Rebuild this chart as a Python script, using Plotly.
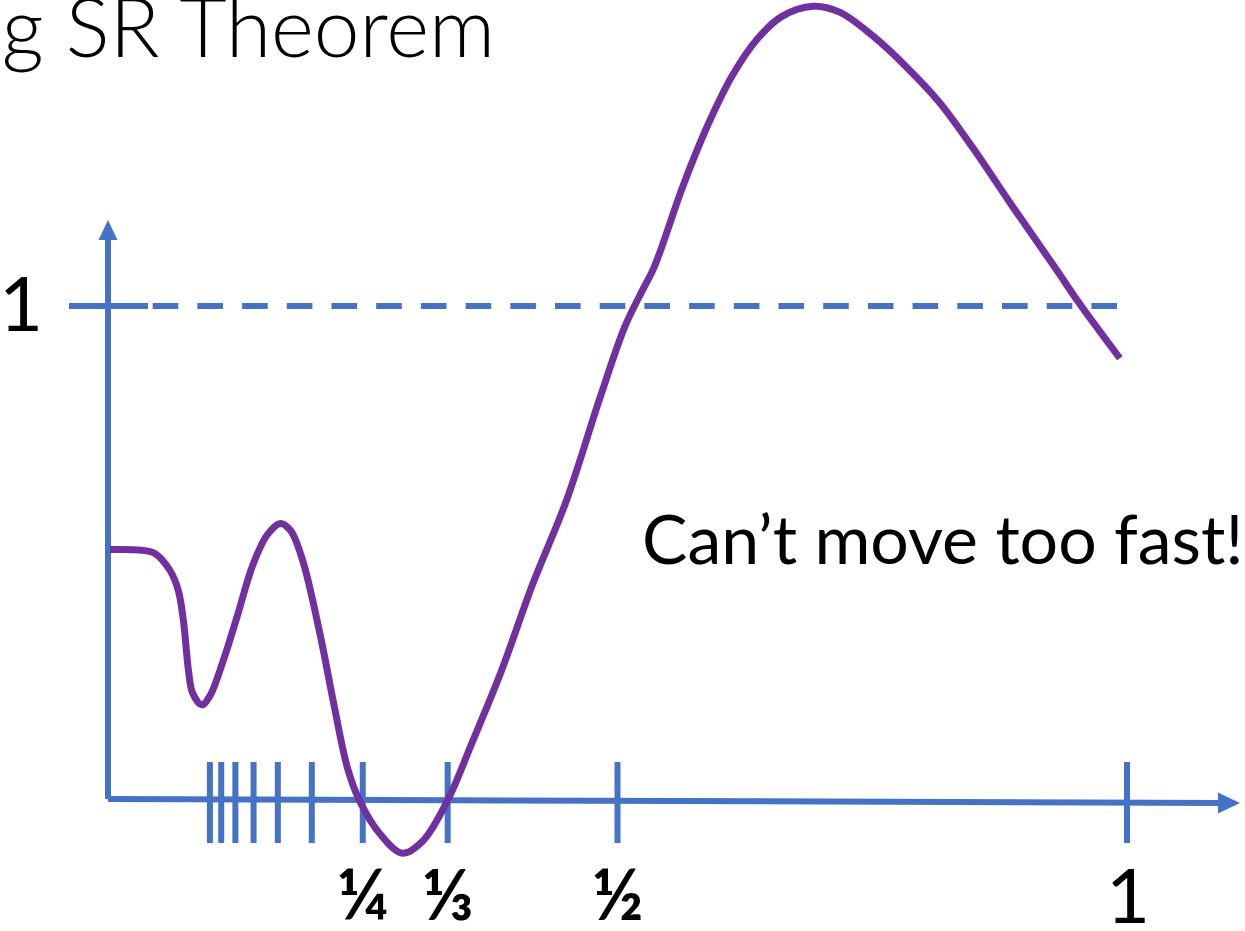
import plotly.graph_objects as go

# ---- data ----
curve_x = [0.002, 0.031, 0.046, 0.061, 0.069, 0.074, 0.079, 0.083, 0.092, 0.100,
           0.113, 0.127, 0.142, 0.156, 0.169, 0.179, 0.191, 0.208, 0.221, 0.235,
           0.247, 0.267, 0.289, 0.309, 0.333, 0.358, 0.385, 0.417, 0.450, 0.483,
           0.507, 0.523, 0.536, 0.564, 0.588, 0.612, 0.637, 0.661, 0.692, 0.718,
           0.751, 0.783, 0.816, 0.848, 0.888, 0.929, 0.953, 0.993]
curve_y = [0.506, 0.505, 0.498, 0.463, 0.423, 0.362, 0.260, 0.215, 0.191, 0.209,
           0.280, 0.372, 0.474, 0.535, 0.559, 0.545, 0.484, 0.335, 0.199, 0.063,
           -0.004, -0.071, -0.110, -0.085, -0.004, 0.118, 0.254, 0.437, 0.606, 0.815,
           0.957, 1.026, 1.079, 1.242, 1.364, 1.465, 1.541, 1.587, 1.608, 1.596,
           1.547, 1.486, 1.413, 1.323, 1.201, 1.079, 1.006, 0.894]

tick_denominators = [1, 2, 3, 4, 5, 6, 7, 8, 9, 10]
tick_labels = {1: "1", 2: "½", 3: "⅓", 4: "¼"}
threshold = 1.0
title_text = "Using SR Theorem"
note_text = "Can’t move too fast!"

BLUE = "#4472C4"
PURPLE = "#7030A0"

W, H = 1245, 931
X0_PX, X1_PX = 108, 1127   # page pixels of x=0 and x=1
Y0_PX, Y1_PX = 799, 306    # page pixels of y=0 and y=1
sx = X1_PX - X0_PX
sy = Y0_PX - Y1_PX
x_range = [-X0_PX / sx, (W - X0_PX) / sx]
y_range = [(Y0_PX - H) / sy, Y0_PX / sy]


def px_to_x(p):
    return (p - X0_PX) / sx


def px_to_y(p):
    return (Y0_PX - p) / sy


fig = go.Figure()
LW = 6

# dashed threshold line
fig.add_trace(go.Scatter(x=[0, px_to_x(1118)], y=[threshold, threshold], mode="lines",
                         line=dict(color=BLUE, width=LW, dash="25.6px,19.1px"),
                         hoverinfo="skip", showlegend=False))
# y tick at threshold
fig.add_trace(go.Scatter(x=[px_to_x(69), px_to_x(148)], y=[threshold, threshold], mode="lines",
                         line=dict(color=BLUE, width=LW), hoverinfo="skip", showlegend=False))
# y axis
fig.add_trace(go.Scatter(x=[0, 0], y=[0, px_to_y(238)], mode="lines",
                         line=dict(color=BLUE, width=LW), hoverinfo="skip", showlegend=False))
# x axis (slightly tilted like the hand drawing)
x_end = px_to_x(1222)
tilt = -4 / sy
fig.add_trace(go.Scatter(x=[0, x_end], y=[0, tilt], mode="lines",
                         line=dict(color=BLUE, width=LW), hoverinfo="skip", showlegend=False))
# x ticks at 1/n
tick_top, tick_bot = px_to_y(762), px_to_y(843)
tx, ty = [], []
for n in tick_denominators:
    v = 1.0 / n
    tx += [v, v, None]
    ty += [tick_bot, tick_top, None]
fig.add_trace(go.Scatter(x=tx, y=ty, mode="lines", line=dict(color=BLUE, width=LW),
                         hoverinfo="skip", showlegend=False))

# curve
fig.add_trace(go.Scatter(x=curve_x, y=curve_y, mode="lines",
                         line=dict(color=PURPLE, width=7, shape="spline", smoothing=1.0),
                         hoverinfo="skip", showlegend=False))

# arrowheads
shapes = []
bx = px_to_x(1218)
tipx = px_to_x(1240)
hh = 10.5 / sy
shapes.append(dict(type="path", xref="x", yref="y",
                   path=f"M {bx},{tilt + hh} L {bx},{tilt - hh} L {tipx},{tilt} Z",
                   fillcolor=BLUE, line=dict(width=0)))
by = px_to_y(240)
tipy = px_to_y(220)
hw = 9.5 / sx
shapes.append(dict(type="path", xref="x", yref="y",
                   path=f"M {-hw},{by} L {hw},{by} L 0,{tipy} Z",
                   fillcolor=BLUE, line=dict(width=0)))

annotations = []
# x tick labels
for n, lab in tick_labels.items():
    if n == 1:
        annotations.append(dict(x=px_to_x(1128), y=px_to_y(893), xref="x", yref="y", text=lab,
                                showarrow=False, xanchor="center", yanchor="middle",
                                font=dict(family="Lato", size=76, color="black")))
    else:
        annotations.append(dict(x=1.0 / n, y=px_to_y(893), xref="x", yref="y", text=lab,
                                showarrow=False, xanchor="center", yanchor="middle",
                                font=dict(family="Lato", size=70, color="black", weight="bold")))
# y label
annotations.append(dict(x=px_to_x(21), y=px_to_y(301), xref="x", yref="y", text="1",
                        showarrow=False, xanchor="center", yanchor="middle",
                        font=dict(family="Lato", size=76, color="black")))
# note
annotations.append(dict(x=px_to_x(640), y=px_to_y(537), xref="x", yref="y", text=note_text,
                        showarrow=False, xanchor="left", yanchor="middle",
                        font=dict(family="Lato", size=68, color="black")))
# title (partly off the slide on the left)
annotations.append(dict(x=497 / W, y=1 - 25 / H, xref="paper", yref="paper",
                        text=title_text, showarrow=False, xanchor="right", yanchor="middle",
                        font=dict(family="Lato", size=82, color="black", weight=300)))

fig.update_layout(
    width=W, height=H, autosize=False,
    margin=dict(l=0, r=0, t=0, b=0),
    paper_bgcolor="white", plot_bgcolor="white",
    xaxis=dict(range=x_range, visible=False, fixedrange=True),
    yaxis=dict(range=y_range, visible=False, fixedrange=True),
    shapes=shapes, annotations=annotations,
    showlegend=False,
)

fig.write_html("out.html", config={"displayModeBar": False},
               post_script="document.body.style.margin='0';")
